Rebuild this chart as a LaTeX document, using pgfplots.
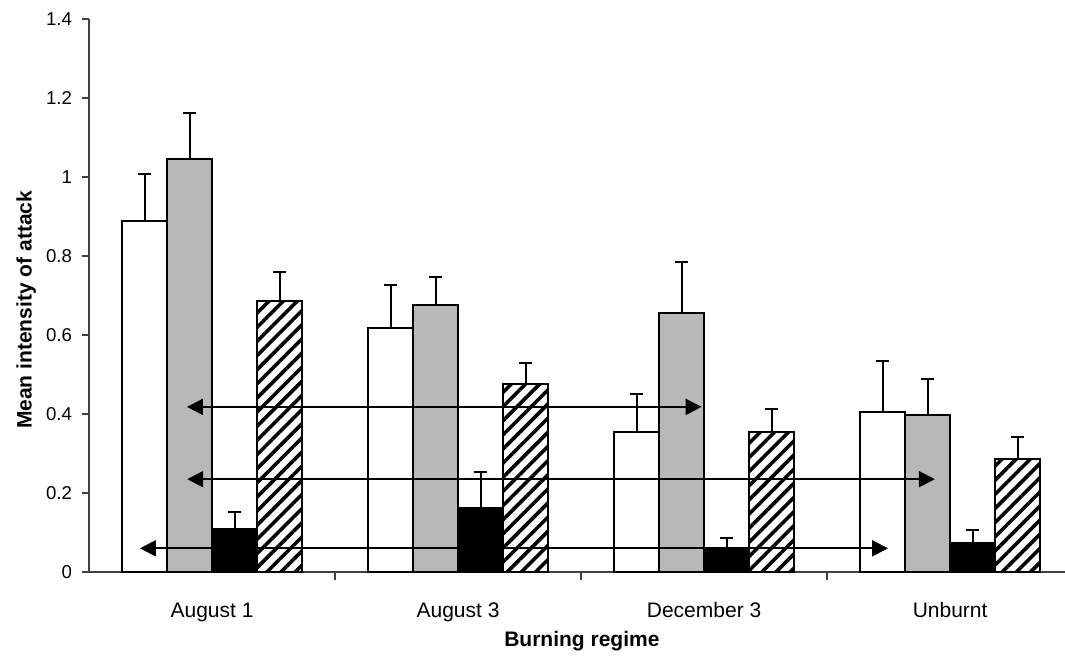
\documentclass[border=0pt]{standalone}
\usepackage{fontspec}
\setmainfont{Liberation Sans}
\usepackage{pgfplots}
\usepackage{pgfplotstable}
\pgfplotsset{compat=1.18}
\usetikzlibrary{patterns,patterns.meta,arrows.meta}

\pgfplotstableread{
x y e
0 0.889 0.119
1 0.617 0.110
2 0.354 0.096
3 0.404 0.130
}\tabwhite
\pgfplotstableread{
x y e
0 1.045 0.116
1 0.676 0.072
2 0.656 0.128
3 0.398 0.090
}\tabgray
\pgfplotstableread{
x y e
0 0.108 0.045
1 0.161 0.093
2 0.062 0.025
3 0.073 0.033
}\tabblack
\pgfplotstableread{
x y e
0 0.687 0.072
1 0.475 0.053
2 0.354 0.058
3 0.286 0.055
}\tabhatch

\begin{document}
\begin{tikzpicture}
\begin{axis}[
  scale only axis,
  width=488pt, height=276.5pt,
  xmin=-0.5, xmax=3.467,
  ymin=0, ymax=1.4,
  axis x line=bottom, axis y line=left,
  axis line style={-, line width=0.6pt, black!75},
  xtick={0,1,2,3},
  xticklabels={August 1, August 3, December 3, Unburnt},
  major x tick style={draw=none},
  minor xtick={0.5,1.5,2.5},
  minor x tick style={line width=0.6pt, black!75},
  ytick={0,0.2,0.4,0.6,0.8,1,1.2,1.4},
  y tick style={line width=0.6pt, black!75},
  tick align=outside,
  major tick length=3.5pt,
  minor tick length=4pt,
  /pgf/number format/assume math mode=true,
  yticklabel style={font=\fontsize{9.3}{10}\selectfont, xshift=-1.5pt},
  xticklabel style={font=\fontsize{10.5}{12}\selectfont, anchor=base, yshift=-19pt},
  xlabel={\textbf{Burning regime}},
  ylabel={\textbf{Mean intensity of attack}},
  label style={font=\fontsize{10.5}{12}\selectfont},
  xlabel style={at={(axis description cs:0.505,-0.1356)}, anchor=base},
  ylabel style={at={(axis description cs:-0.0589,0.474)}, anchor=base},
  error bars/y dir=plus,
  error bars/y explicit,
  error bars/error mark=|,
  error bars/error mark options={line width=1pt, mark size=3.2pt, black},
  error bars/error bar style={line width=1pt, black},
]
\addplot[ybar, bar width=0.1829, bar shift=0, draw=black, line width=1pt, fill=white]
  table[x expr=\thisrow{x}-0.2744, y=y, y error=e] {\tabwhite};
\addplot[ybar, bar width=0.1829, bar shift=0, draw=black, line width=1pt, fill=black!28]
  table[x expr=\thisrow{x}-0.0915, y=y, y error=e] {\tabgray};
\addplot[ybar, bar width=0.1829, bar shift=0, draw=black, line width=1pt, fill=black]
  table[x expr=\thisrow{x}+0.0915, y=y, y error=e] {\tabblack};
\addplot[ybar, bar width=0.1829, bar shift=0, draw=black, line width=1pt,
  pattern={Lines[angle=45, distance=5pt, line width=1.8pt]}, pattern color=black]
  table[x expr=\thisrow{x}+0.2744, y=y, y error=e] {\tabhatch};
\addplot[sharp plot, no markers, line width=1pt, black,
  arrows={Triangle[length=8pt,width=8pt]-Triangle[length=8pt,width=8pt]}]
  coordinates {(-0.102,0.418) (1.990,0.418)};
\addplot[sharp plot, no markers, line width=1pt, black,
  arrows={Triangle[length=8pt,width=8pt]-Triangle[length=8pt,width=8pt]}]
  coordinates {(-0.101,0.235) (2.938,0.235)};
\addplot[sharp plot, no markers, line width=1pt, black,
  arrows={Triangle[length=8pt,width=8pt]-Triangle[length=8pt,width=8pt]}]
  coordinates {(-0.293,0.060) (2.748,0.060)};
\end{axis}
\pgfresetboundingbox
\path[use as bounding box] (-44.5pt,-41.5pt) rectangle (488pt,286pt);
\end{tikzpicture}
\end{document}
